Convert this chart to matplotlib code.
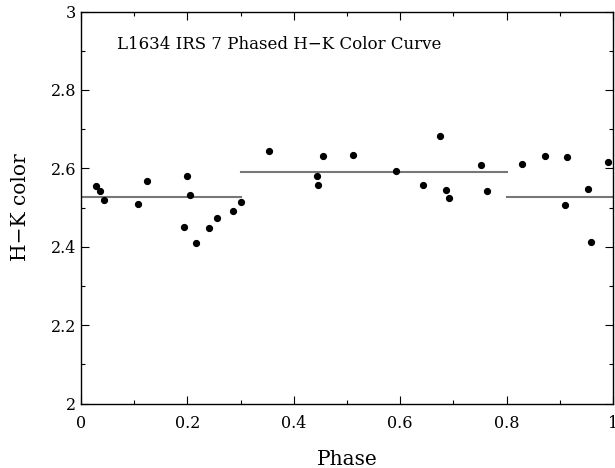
import matplotlib
matplotlib.use("Agg")
import matplotlib.pyplot as plt
from matplotlib.ticker import MultipleLocator, FuncFormatter

# phase and H-K colour
phase = [0.028, 0.036, 0.044, 0.107, 0.125, 0.194, 0.200, 0.205, 0.217, 0.240,
         0.255, 0.285, 0.300, 0.353, 0.443, 0.446, 0.455, 0.512, 0.593, 0.642,
         0.675, 0.687, 0.691, 0.752, 0.764, 0.829, 0.872, 0.909, 0.913, 0.953,
         0.958, 0.990]
hk = [2.556, 2.543, 2.518, 2.510, 2.568, 2.451, 2.580, 2.532, 2.409, 2.448,
      2.474, 2.492, 2.515, 2.643, 2.581, 2.558, 2.632, 2.634, 2.594, 2.558,
      2.682, 2.545, 2.524, 2.608, 2.542, 2.611, 2.632, 2.506, 2.628, 2.546,
      2.413, 2.616]

# mean level in each phase bin
bin_start = [0.0, 0.3, 0.8]
bin_end = [0.3, 0.8, 1.0]
bin_mean = [2.528, 2.591, 2.527]

plt.rcParams['font.family'] = ['DejaVu Serif']

fig = plt.figure(figsize=(6.15, 4.68), dpi=100)
ax = fig.add_axes([0.1317, 0.1378, 0.8650, 0.8376])

for x0, x1, m in zip(bin_start, bin_end, bin_mean):
    ax.plot([x0, x1], [m, m], color='#777777', lw=1.5, zorder=1)
ax.plot(phase, hk, 'o', color='black', ms=4.2, zorder=2)

ax.set_xlim(0, 1)
ax.set_ylim(2, 3)
ax.xaxis.set_major_locator(MultipleLocator(0.2))
ax.xaxis.set_minor_locator(MultipleLocator(0.1))
ax.yaxis.set_major_locator(MultipleLocator(0.2))
ax.yaxis.set_minor_locator(MultipleLocator(0.1))
fmt = FuncFormatter(lambda v, p: '%g' % round(v, 3))
ax.xaxis.set_major_formatter(fmt)
ax.yaxis.set_major_formatter(fmt)
ax.tick_params(which='both', direction='in', top=True, right=True, labelsize=11.5)
ax.tick_params(which='major', length=6, width=0.8)
ax.tick_params(which='minor', length=3, width=0.8)
ax.tick_params(axis='x', pad=8)
for s in ax.spines.values():
    s.set_linewidth(1.0)

ax.text(0.372, 2.915, 'L1634 IRS 7 Phased H\u2212K Color Curve', ha='center', va='center',
        fontsize=12)
ax.set_xlabel('Phase', fontsize=14.5, labelpad=13)
ax.set_ylabel('H\u2212K color', fontsize=14.5, labelpad=15)

fig.savefig('out.png', dpi=100)
